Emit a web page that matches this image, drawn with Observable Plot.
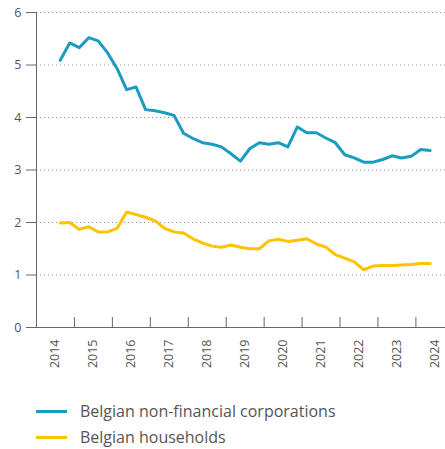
<!DOCTYPE html>
<html>
<head>
<meta charset="utf-8">
<script src="https://cdn.jsdelivr.net/npm/d3@7"></script>
<script src="https://cdn.jsdelivr.net/npm/@observablehq/plot@0.6"></script>
<style>
  html, body { margin: 0; padding: 0; background: #fff; }
  #chart { width: 445px; height: 449px; position: relative; font-family: "Open Sans", sans-serif; }
  .legend { position: absolute; left: 36px; top: 398px; color: #555; font-size: 16px; }
  .legend div { display: flex; align-items: center; height: 26px; }
  .legend span.sw { display: inline-block; width: 31px; height: 3px; margin-right: 13px; }
</style>
</head>
<body>
<div id="chart"></div>
<script>
const seriesNames = ["Belgian non-financial corporations", "Belgian households"];
const seriesColors = ["#1a9bbf", "#fcc300"];
const startQuarter = 2014.625; // Q3 2014, quarter midpoint
const corporations = [5.09, 5.42, 5.33, 5.52, 5.46, 5.23, 4.93, 4.53, 4.58, 4.15,
  4.13, 4.09, 4.04, 3.70, 3.60, 3.52, 3.49, 3.44, 3.31, 3.17,
  3.41, 3.52, 3.49, 3.52, 3.44, 3.82, 3.71, 3.71, 3.61, 3.52,
  3.29, 3.23, 3.15, 3.15, 3.20, 3.27, 3.23, 3.26, 3.39, 3.37];
const households = [1.99, 2.00, 1.87, 1.92, 1.82, 1.82, 1.89, 2.20, 2.15, 2.10,
  2.03, 1.89, 1.82, 1.80, 1.69, 1.61, 1.55, 1.53, 1.57, 1.53,
  1.50, 1.50, 1.65, 1.68, 1.64, 1.66, 1.69, 1.59, 1.53, 1.39,
  1.32, 1.25, 1.10, 1.17, 1.18, 1.18, 1.19, 1.20, 1.22, 1.22];
const yTicks = [0, 1, 2, 3, 4, 5, 6];
const yearLabels = [2014, 2015, 2016, 2017, 2018, 2019, 2020, 2021, 2022, 2023, 2024];
const yearBoundaries = [2015, 2016, 2017, 2018, 2019, 2020, 2021, 2022, 2023, 2024];

const data = [];
[corporations, households].forEach((arr, s) => {
  arr.forEach((v, i) => data.push({date: startQuarter + i * 0.25, value: v, series: seriesNames[s]}));
});

const plot = Plot.plot({
  width: 445,
  height: 375,
  marginLeft: 36,
  marginRight: 0,
  marginTop: 12,
  marginBottom: 48,
  style: {fontFamily: "Open Sans, sans-serif", fontSize: "12.5px", color: "#555", background: "#fff"},
  x: {domain: [2014, 2024.78], label: null},
  y: {domain: [0, 6], label: null},
  color: {domain: seriesNames, range: seriesColors},
  marks: [
    Plot.gridY(yTicks.filter(d => d > 0), {stroke: "#999", strokeOpacity: 1, strokeDasharray: "1.2,2.8"}),
    Plot.axisY({ticks: yTicks, tickSize: 10, tickPadding: 5, stroke: "#666", label: null, tickFormat: d => d}),
    Plot.axisX({ticks: yearBoundaries, tickSize: -10, text: null, stroke: "#666", label: null}),
    Plot.axisX({ticks: yearLabels.map(d => d + 0.5), tickSize: 0, tickPadding: 12, tickRotate: -90, tickFormat: d => String(Math.floor(d)), label: null}),
    Plot.ruleX([2014], {stroke: "#666"}),
    Plot.ruleY([0], {stroke: "#666"}),
    Plot.line(data, {x: "date", y: "value", stroke: "series", strokeWidth: 3, curve: "linear"})
  ]
});
const chart = document.getElementById("chart");
chart.appendChild(plot);

const legend = document.createElement("div");
legend.className = "legend";
seriesNames.forEach((name, i) => {
  const row = document.createElement("div");
  const sw = document.createElement("span");
  sw.className = "sw";
  sw.style.background = seriesColors[i];
  row.appendChild(sw);
  row.appendChild(document.createTextNode(name));
  legend.appendChild(row);
});
chart.appendChild(legend);
</script>
</body>
</html>
